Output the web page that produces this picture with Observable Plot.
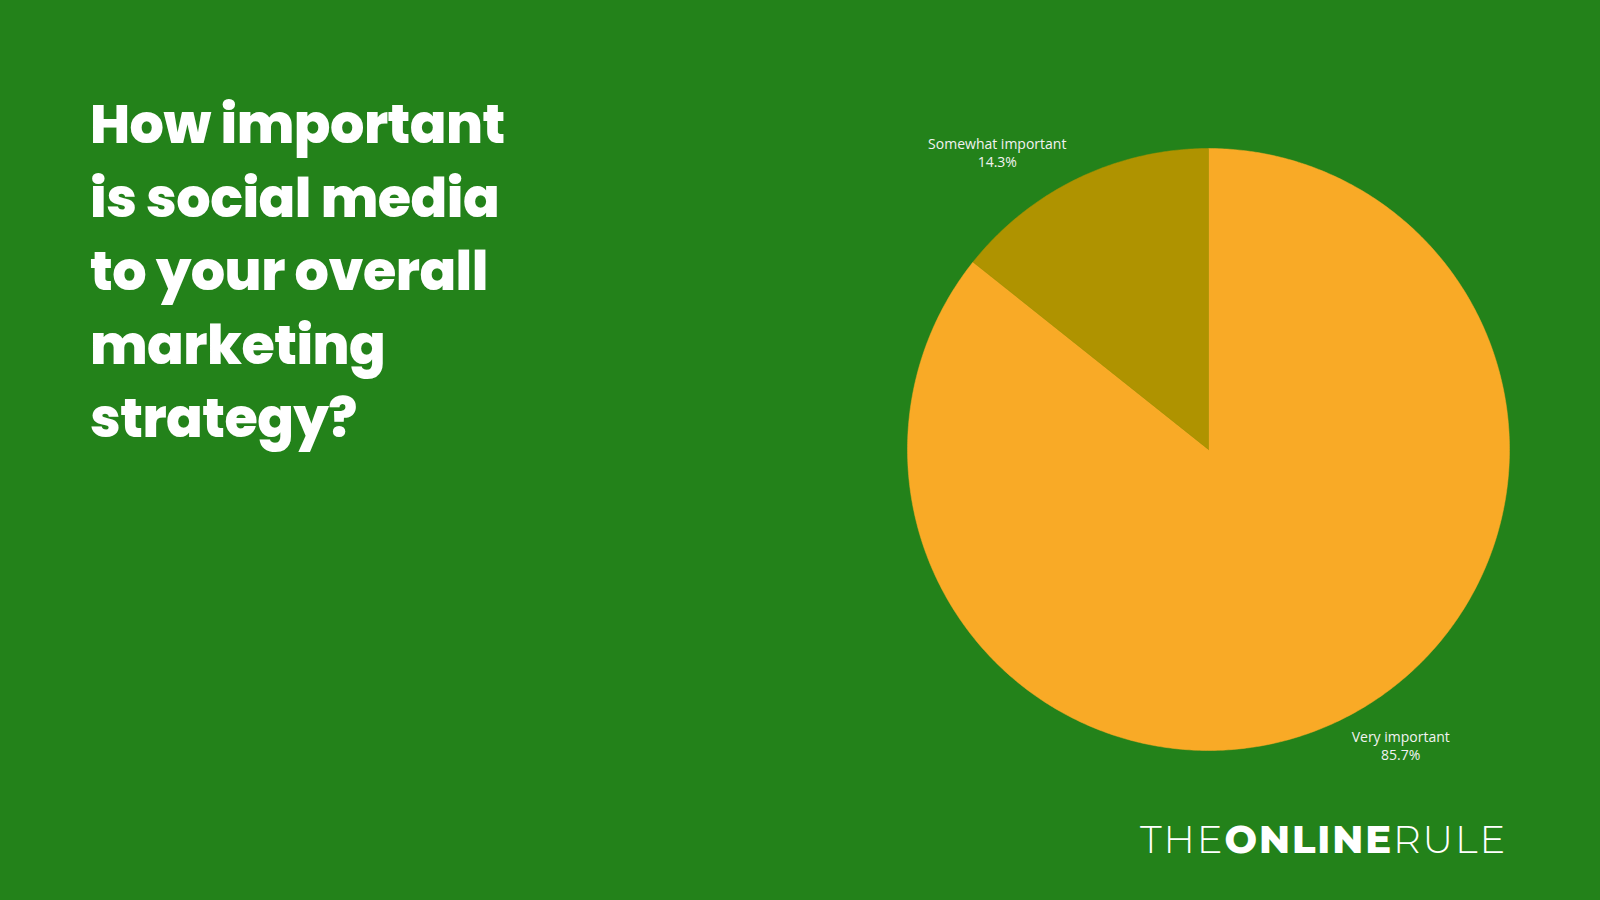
<!DOCTYPE html>
<html>
<head>
<meta charset="utf-8">
<script src="https://cdn.jsdelivr.net/npm/d3@7"></script>
<script src="https://cdn.jsdelivr.net/npm/@observablehq/plot@0.6"></script>
<style>
  html, body { margin: 0; padding: 0; width: 1600px; height: 900px; overflow: hidden; background: #23821a; }
  #wrap { position: relative; width: 1600px; height: 900px; }
  #title {
    position: absolute; left: 90px; top: 88px; margin: 0;
    font-family: Poppins, "Open Sans", sans-serif; font-weight: 800;
    font-size: 54px; line-height: 73.5px; color: #ffffff; letter-spacing: -0.5px;
  }
  #logo {
    position: absolute; left: 1140px; top: 816px; margin: 0;
    font-family: Montserrat, "Open Sans", sans-serif; font-size: 38.5px; color: #ffffff;
    letter-spacing: 1.9px; white-space: nowrap;
  }
  #logo .l { font-weight: 300; }
  #logo .b { font-weight: 800; }
  #chart { position: absolute; left: 0; top: 0; }
</style>
</head>
<body>
<div id="wrap">
  <h1 id="title">How important<br>is social media<br>to your overall<br>marketing<br>strategy?</h1>
  <div id="chart"></div>
  <div id="logo"><span class="l">THE</span><span class="b">ONLINE</span><span class="l">RULE</span></div>
</div>
<script>
// Data
const categories = ["Very important", "Somewhat important"];
const values = [85.7, 14.3];
const labels = ["85.7%", "14.3%"];
const colors = ["#f9aa26", "#af9300"];

const data = categories.map((c, i) => ({category: c, value: values[i], label: labels[i]}));

// Pie angles (clockwise from 12 o'clock)
const arcs = d3.pie().value(d => d.value).sort(null).startAngle(0).endAngle(2 * Math.PI)(data);

// Build wedge outlines in unit coordinates (y up)
const wedgePts = [];
for (const a of arcs) {
  const n = Math.max(4, Math.ceil((a.endAngle - a.startAngle) / (Math.PI / 360)));
  wedgePts.push({category: a.data.category, x: 0, y: 0});
  for (let k = 0; k <= n; k++) {
    const t = a.startAngle + (a.endAngle - a.startAngle) * k / n;
    wedgePts.push({category: a.data.category, x: Math.sin(t), y: Math.cos(t)});
  }
  wedgePts.push({category: a.data.category, x: 0, y: 0});
}

// Label positions derived from each slice's angle
const labelPts = arcs.map((a, i) => {
  const mid = (a.startAngle + a.endAngle) / 2 - 0.145;
  const r = 1.2;
  return {text: a.data.category + "\n" + a.data.label, x: r * Math.sin(mid), y: r * Math.cos(mid), i};
});

const chart = Plot.plot({
  width: 1600,
  height: 900,
  margin: 0,
  style: {background: "transparent", overflow: "visible"},
  x: {domain: [-1, 1], range: [907, 1509], axis: null},
  y: {domain: [-1, 1], range: [750, 148], axis: null},
  color: {domain: categories, range: colors},
  marks: [
    Plot.line(wedgePts, {x: "x", y: "y", z: "category", fill: "category", stroke: "category", strokeWidth: 0.5, curve: "linear-closed"}),
    Plot.text(labelPts.filter(d => d.i === 0), {x: "x", y: "y", text: "text", fill: "#f2f2f2", fontSize: 14, lineHeight: 1.3,
      fontFamily: "'Open Sans', sans-serif", textAnchor: "middle", dx: -10, dy: -4}),
    Plot.text(labelPts.filter(d => d.i === 1), {x: "x", y: "y", text: "text", fill: "#f2f2f2", fontSize: 14, lineHeight: 1.3,
      fontFamily: "'Open Sans', sans-serif", textAnchor: "middle", dx: -9, dy: 2})
  ]
});
document.getElementById("chart").appendChild(chart);
</script>
</body>
</html>
